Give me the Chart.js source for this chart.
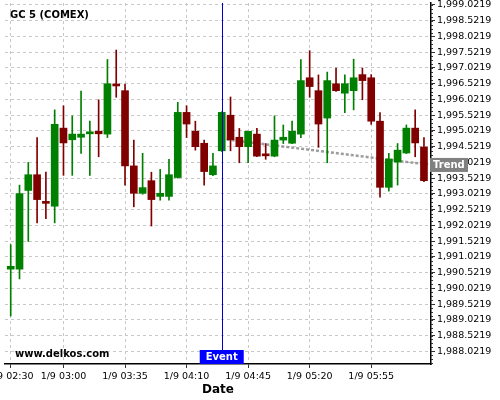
<!DOCTYPE html>
<html>
<head>
<meta charset="utf-8">
<script src="https://cdn.jsdelivr.net/npm/chart.js@4.4.1/dist/chart.umd.min.js"></script>
<style>
  html, body { margin: 0; padding: 0; background: #fff; }
  #wrap { width: 500px; height: 400px; position: relative; }
</style>
</head>
<body>
<div id="wrap"><canvas id="chart"></canvas></div>
<script>
// 5 minute candles, 1/9
const times = [
  '02:30','02:35','02:40','02:45','02:50','02:55','03:00','03:05','03:10','03:15','03:20','03:25',
  '03:30','03:35','03:40','03:45','03:50','03:55','04:00','04:05','04:10','04:15','04:20','04:25',
  '04:30','04:35','04:40','04:45','04:50','04:55','05:00','05:05','05:10','05:15','05:20','05:25',
  '05:30','05:35','05:40','05:45','05:50','05:55','06:00','06:05','06:10','06:15','06:20','06:25'
];
const open = [
  1990.63, 1990.63, 1993.13, 1993.63, 1992.75, 1992.63, 1995.11, 1994.74, 1994.82, 1994.93, 1995.01, 1994.92,
  1996.47, 1996.30, 1993.91, 1993.04, 1993.44, 1992.94, 1992.94, 1993.54, 1995.61, 1995.01, 1994.63, 1993.63,
  1994.39, 1995.52, 1994.82, 1994.52, 1994.92, 1994.26, 1994.22, 1994.73, 1994.63, 1994.92, 1996.71, 1996.30,
  1995.43, 1996.52, 1996.22, 1996.30, 1996.81, 1996.71, 1995.33, 1993.23, 1994.03, 1994.32, 1995.11, 1994.51
];
const high = [
  1991.41, 1993.30, 1994.02, 1994.81, 1993.71, 1995.69, 1995.82, 1995.50, 1996.29, 1995.33, 1996.01, 1997.29,
  1997.59, 1996.51, 1994.73, 1994.31, 1993.71, 1993.80, 1994.12, 1995.93, 1995.82, 1995.33, 1994.73, 1994.31,
  1995.63, 1996.10, 1995.10, 1995.01, 1995.10, 1994.62, 1995.50, 1995.21, 1995.33, 1997.29, 1997.57, 1996.80,
  1996.89, 1997.02, 1996.80, 1997.30, 1997.02, 1996.81, 1995.60, 1994.31, 1994.62, 1995.21, 1995.69, 1994.81
];
const low = [
  1989.14, 1990.32, 1991.51, 1992.10, 1992.23, 1992.10, 1993.61, 1993.61, 1994.31, 1993.61, 1994.20, 1994.81,
  1996.09, 1993.30, 1992.61, 1993.01, 1992.00, 1992.82, 1992.82, 1993.52, 1994.81, 1994.41, 1993.30, 1993.60,
  1994.37, 1994.39, 1994.01, 1994.01, 1994.20, 1994.12, 1994.20, 1994.62, 1994.62, 1994.81, 1996.09, 1994.50,
  1994.01, 1996.28, 1995.60, 1995.69, 1996.01, 1995.23, 1992.92, 1993.11, 1993.30, 1994.30, 1994.20, 1993.41
];
const close = [
  1990.72, 1993.03, 1993.63, 1992.84, 1992.72, 1995.23, 1994.64, 1994.92, 1994.92, 1994.95, 1994.93, 1996.52,
  1996.45, 1993.91, 1993.04, 1993.22, 1992.84, 1993.04, 1993.63, 1995.61, 1995.24, 1994.52, 1993.73, 1993.91,
  1995.61, 1994.74, 1994.52, 1995.01, 1994.22, 1994.23, 1994.73, 1994.82, 1995.01, 1996.62, 1996.43, 1995.24,
  1996.62, 1996.30, 1996.52, 1996.71, 1996.62, 1995.33, 1993.23, 1994.13, 1994.41, 1995.11, 1994.64, 1993.44
];

// trend line (candle index, price) and event candle
const trendX = [24, 47.8];
const trendY = [1994.77, 1993.94];
const eventIdx = 24;

// axis ticks
const xTickIdx = [0, 6, 13, 20, 27, 34, 41];
const xTickLabels = ['1/9 02:30', '1/9 03:00', '1/9 03:35', '1/9 04:10', '1/9 04:45', '1/9 05:20', '1/9 05:55'];
const yTicks = [
  1988.0219, 1988.5219, 1989.0219, 1989.5219, 1990.0219, 1990.5219, 1991.0219, 1991.5219,
  1992.0219, 1992.5219, 1993.0219, 1993.5219, 1994.0219, 1994.5219, 1995.0219, 1995.5219,
  1996.0219, 1996.5219, 1997.0219, 1997.5219, 1998.0219, 1998.5219, 1999.0219
];

const FONT = 'DejaVu Sans';
const UP = '#008000';
const DOWN = '#800000';
const candleColors = close.map((c, i) => c >= open[i] ? UP : DOWN);

const formatPrice = function (v) {
    const parts = v.toFixed(4).split('.');
    return parts[0].replace(/\B(?=(\d{3})+(?!\d))/g, ',') + '.' + parts[1];
};

const overlay = {
    id: 'overlay',
    afterDatasetsDraw(chart) {
        const {ctx, chartArea: a, scales: {x}} = chart;
        const ex = Math.round(x.getPixelForValue(eventIdx)) + 0.5;
        ctx.save();
        ctx.strokeStyle = '#0000cc';
        ctx.lineWidth = 1;
        ctx.beginPath();
        ctx.moveTo(ex, a.top);
        ctx.lineTo(ex, a.bottom);
        ctx.stroke();
        ctx.restore();
    },
    afterDraw(chart) {
        const {ctx, chartArea: a, scales: {x, y}} = chart;
        ctx.save();

        // minor ticks on the price axis
        ctx.strokeStyle = '#333';
        ctx.lineWidth = 1;
        ctx.beginPath();
        for (let v = yTicks[0] - 0.375; v <= y.max; v += 0.125) {
            const py = Math.round(y.getPixelForValue(v)) + 0.5;
            if (py < a.top || py > a.bottom) continue;
            ctx.moveTo(a.right, py);
            ctx.lineTo(a.right + 2, py);
        }
        ctx.stroke();

        ctx.font = 'bold 10px "' + FONT + '"';
        ctx.textBaseline = 'middle';

        // event label
        const ex = x.getPixelForValue(eventIdx);
        ctx.fillStyle = '#0000ff';
        ctx.fillRect(ex - 22, a.bottom - 14, 44, 14);
        ctx.fillStyle = '#fff';
        ctx.textAlign = 'center';
        ctx.fillText('Event', ex, a.bottom - 6.5);

        // trend label
        const ty = y.getPixelForValue(trendY[1]);
        ctx.fillStyle = '#808080';
        ctx.fillRect(a.right - 1, ty - 7, 38, 14);
        ctx.fillStyle = '#fff';
        ctx.textAlign = 'left';
        ctx.fillText('Trend', a.right + 2, ty + 0.5);

        // title and source
        ctx.fillStyle = '#000';
        ctx.fillText('GC 5 (COMEX)', 10, 15);
        ctx.fillText('www.delkos.com', 15, 354);
        ctx.restore();
    }
};

const ctx = document.getElementById('chart').getContext('2d');

new Chart(ctx, {
    type: 'bar',
    data: {
        datasets: [
            {
                type: 'line',
                label: 'Trend',
                data: trendX.map((v, i) => ({x: v, y: trendY[i]})),
                borderColor: 'rgba(140, 140, 140, 0.85)',
                borderWidth: 2.5,
                borderDash: [3, 2],
                pointRadius: 0,
                order: 3
            },
            {
                label: 'Wick',
                data: times.map((t, i) => ({x: i, y: [low[i], high[i]]})),
                backgroundColor: candleColors,
                barThickness: 1,
                grouped: false,
                order: 2
            },
            {
                label: 'Body',
                data: times.map((t, i) => ({x: i, y: [open[i], close[i]]})),
                backgroundColor: candleColors,
                barThickness: 7,
                minBarLength: 2,
                grouped: false,
                order: 1
            }
        ]
    },
    options: {
        responsive: true,
        maintainAspectRatio: false,
        animation: false,
        layout: {
            padding: {left: 5, top: 3, right: 0, bottom: 0}
        },
        plugins: {
            legend: {display: false},
            tooltip: {enabled: false}
        },
        scales: {
            x: {
                type: 'linear',
                min: -0.65,
                max: 47.8,
                offset: false,
                grid: {
                    offset: false,
                    color: '#c8c8c8',
                    tickColor: '#333',
                    tickLength: 4
                },
                border: {color: '#000', width: 1.5, dash: [3, 3]},
                ticks: {
                    autoSkip: false,
                    maxRotation: 0,
                    padding: 3,
                    color: '#000',
                    font: {family: FONT, size: 9.5},
                    callback: function (value, index) {
                        return xTickLabels[index];
                    }
                },
                title: {
                    display: true,
                    text: 'Date',
                    color: '#000',
                    font: {family: FONT, size: 12, weight: 'bold'},
                    padding: {top: 0, bottom: 3}
                },
                afterBuildTicks: function (scale) {
                    scale.ticks = xTickIdx.map(v => ({value: v}));
                },
                afterFit: function (scale) {
                    scale.height = 36;
                    scale.paddingLeft = 0;
                    scale.paddingRight = 0;
                }
            },
            y: {
                position: 'right',
                min: 1987.617,
                max: 1999.085,
                grid: {
                    color: '#c8c8c8',
                    tickColor: '#333',
                    tickLength: 4
                },
                border: {color: '#000', width: 1.5, dash: [3, 3]},
                ticks: {
                    autoSkip: false,
                    padding: 2,
                    color: '#000',
                    font: {family: FONT, size: 9.5},
                    callback: function (value) {
                        return formatPrice(value);
                    }
                },
                afterBuildTicks: function (scale) {
                    scale.ticks = yTicks.map(v => ({value: v}));
                },
                afterFit: function (scale) {
                    scale.width = 69;
                    scale.paddingTop = 0;
                    scale.paddingBottom = 0;
                }
            }
        }
    },
    plugins: [overlay]
});
</script>
</body>
</html>
